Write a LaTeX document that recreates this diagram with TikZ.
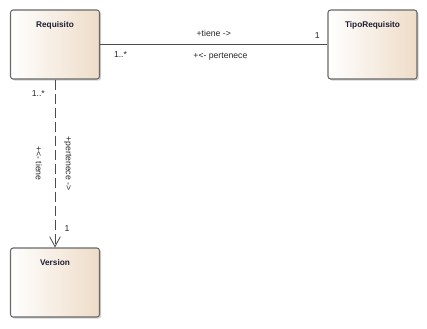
\documentclass[tikz,border=0pt]{standalone}
\usepackage{fontspec}
\setmainfont{Liberation Sans}
\usetikzlibrary{arrows.meta, shadows}

\definecolor{classtan}{RGB}{238,220,200}
\definecolor{classline}{RGB}{105,105,105}
\definecolor{classtext}{RGB}{30,30,50}

\begin{document}
\begin{tikzpicture}[x=0.75pt, y=-0.75pt,
        classbox/.style={draw=classline, line width=0.8pt, rounded corners=2pt,
                         left color=white, right color=classtan,
                         minimum width=66.75pt, minimum height=51.75pt,
                         drop shadow={shadow xshift=1.2pt, shadow yshift=-1.2pt, fill=black!35}},
        classname/.style={font=\bfseries\fontsize{6.2}{7}\selectfont, text=classtext},
        role/.style={font=\fontsize{6.5}{8}\selectfont, text=black!85, inner sep=1pt},
        assoc/.style={draw=black!70, line width=0.6pt}]
    \useasboundingbox (0,0) rectangle (427,328);

    % Classes:
    \node [classbox, label={[classname, anchor=north, yshift=-5.5pt]north:Requisito}] (requisito) at (55,44.5) {};
    \node [classbox, label={[classname, anchor=north, yshift=-5.5pt]north:TipoRequisito}] (tipo) at (372.5,44.5) {};
    \node [classbox, label={[classname, anchor=north, yshift=-5.5pt]north:Version}] (version) at (55,282.5) {};

    % Requisito -- TipoRequisito
    \draw [assoc] (requisito.east) -- (tipo.west)
        node [role, midway, above, yshift=4.5pt] {+tiene ->}
        node [role, midway, below, yshift=-5pt, xshift=5pt] {+<- pertenece}
        node [role, pos=0.955, above, yshift=3.5pt] {1}
        node [role, pos=0.09, below, yshift=-4pt] {1..*};

    % Requisito -> Version
    \draw [assoc, dash pattern=on 7.5pt off 3pt, -{Straight Barb[length=7.5pt, width=8pt]}]
        (requisito.south) -- (version.north)
        node [role, midway, xshift=-12pt, rotate=-90] {+<- tiene}
        node [role, midway, xshift=9.5pt, rotate=-90] {+pertenece ->}
        node [role, pos=0.085, xshift=-12.5pt] {1..*}
        node [role, pos=0.89, xshift=9pt] {1};
\end{tikzpicture}
\end{document}
